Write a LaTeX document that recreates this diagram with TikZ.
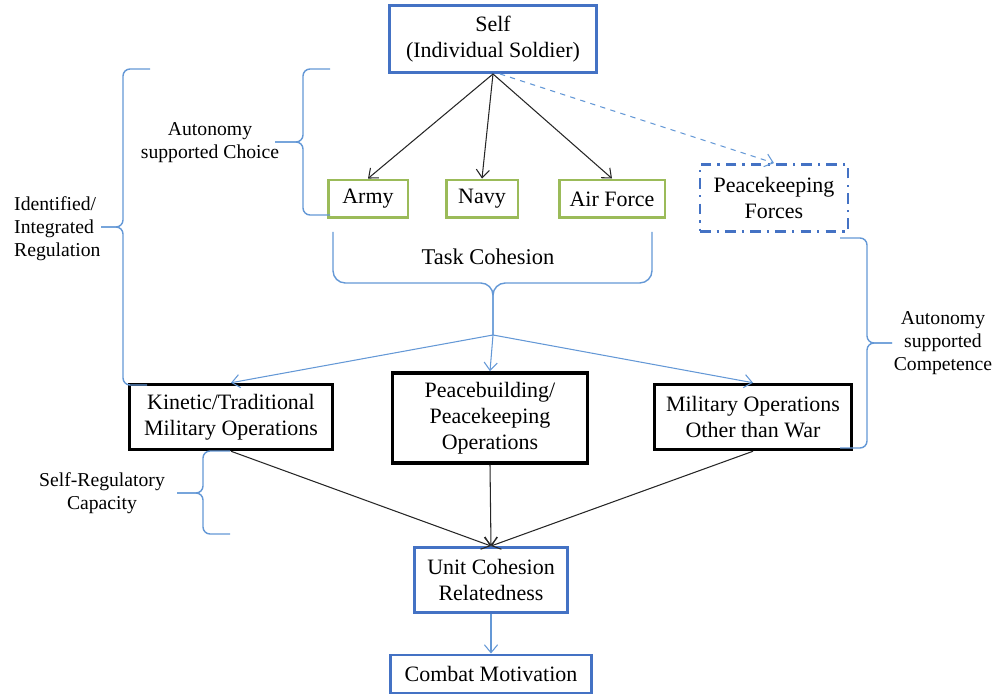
\documentclass[tikz,border=0pt]{standalone}
\usepackage{fontspec}
\setmainfont{Liberation Serif}
\usetikzlibrary{arrows.meta, positioning}
\definecolor{boxblue}{RGB}{68,114,196}
\definecolor{boxgreen}{RGB}{155,187,89}
\definecolor{bracecol}{RGB}{100,152,214}

\begin{document}
\begin{tikzpicture}[
    x=0.02cm, y=-0.02cm,
    box/.style={draw, line width=1.7pt, font=\fontsize{12.5}{14.8}\selectfont,
        align=center, inner sep=2pt, fill=white},
    bluebox/.style={box, draw=boxblue},
    greenbox/.style={box, draw=boxgreen, minimum height=0.76cm},
    opbox/.style={box, draw=black, line width=2pt},
    pkbox/.style={box, draw=boxblue, line width=1.6pt,
        dash pattern=on 6pt off 3.5pt on 1.3pt off 3.5pt},
    arr/.style={-{Straight Barb[length=4.5pt, width=7.5pt]}, line width=0.6pt, black!85},
    barr/.style={arr, bracecol},
    brc/.style={draw=bracecol, line width=0.8pt, rounded corners=4pt},
    lbl/.style={font=\fontsize{11.2}{13.2}\selectfont, align=center}
]
    \useasboundingbox (0,0) rectangle (994,695);

    % boxes
    \node[bluebox, minimum width=4.14cm, minimum height=1.34cm] (self) at (493,39) {Self\\(Individual Soldier)};
    \node[greenbox, minimum width=1.6cm] (army) at (368,199) {Army};
    \node[greenbox, minimum width=1.44cm] (navy) at (482,199) {Navy};
    \node[greenbox, minimum width=2.12cm] (air) at (612,199) {Air Force};
    \node[pkbox, minimum width=2.96cm, minimum height=1.34cm] (pk) at (774,198) {Peacekeeping\\Forces};
    \node[opbox, minimum width=4.06cm, minimum height=1.3cm] (kin) at (231,417) {Kinetic/Traditional\\Military Operations};
    \node[opbox, minimum width=3.9cm, minimum height=1.8cm] (peace) at (490,418) {Peacebuilding/\\Peacekeeping\\Operations};
    \node[opbox, minimum width=3.94cm, minimum height=1.3cm] (mow) at (753,417) {Military Operations\\Other than War};
    \node[bluebox, minimum width=3.06cm, minimum height=1.3cm] (unit) at (491,580) {Unit Cohesion\\Relatedness};
    \node[bluebox, minimum width=4.04cm, minimum height=0.76cm] (combat) at (491,674) {Combat Motivation};

    % labels
    \node[lbl] (choice) at (210,143) {Autonomy\\supported Choice};
    \node[lbl, align=left, anchor=west] (ident) at (8,229) {Identified/\\Integrated\\Regulation};
    \node[lbl] (selfreg) at (102,493) {Self-Regulatory\\Capacity};
    \node[lbl] (comp) at (943,343) {Autonomy\\supported\\Competence};
    \node[font=\fontsize{12.8}{15}\selectfont] (task) at (488,257) {Task Cohesion};

    % braces
    \draw[brc] (330,69) -- (303,69) -- (303,142) -- (275,142);
    \draw[brc] (330,215) -- (303,215) -- (303,142) -- (275,142);
    \draw[brc] (150,69) -- (123,69) -- (123,227) -- (101,227);
    \draw[brc] (147,385) -- (123,385) -- (123,227) -- (101,227);
    \draw[brc] (230,451) -- (203,451) -- (203,493) -- (177,493);
    \draw[brc] (230,534) -- (203,534) -- (203,493) -- (177,493);
    \draw[brc] (840,238) -- (867,238) -- (867,343) -- (892,343);
    \draw[brc] (840,448) -- (867,448) -- (867,343) -- (892,343);
    \coordinate (tc) at (493,335);
    \draw[brc, rounded corners=7pt] (333,232) -- (333,283) -- (493,283) -- (tc);
    \draw[brc, rounded corners=7pt] (652,232) -- (652,283) -- (493,283) -- (tc);

    % connectors
    \draw[arr] (self.south) -- (army.north);
    \draw[arr] (self.south) -- (navy.north);
    \draw[arr] (self.south) -- (air.north);
    \draw[barr, dashed] ([xshift=4pt]self.south) -- (pk.north);
    \draw[barr] (tc) -- (peace.north);
    \draw[barr] (tc) -- (kin.north);
    \draw[barr] (tc) -- (mow.north);
    \draw[arr] (kin.south) -- (unit.north);
    \draw[arr] (peace.south) -- (unit.north);
    \draw[arr] (mow.south) -- (unit.north);
    \draw[barr] (unit.south) -- (combat.north);
\end{tikzpicture}
\end{document}
